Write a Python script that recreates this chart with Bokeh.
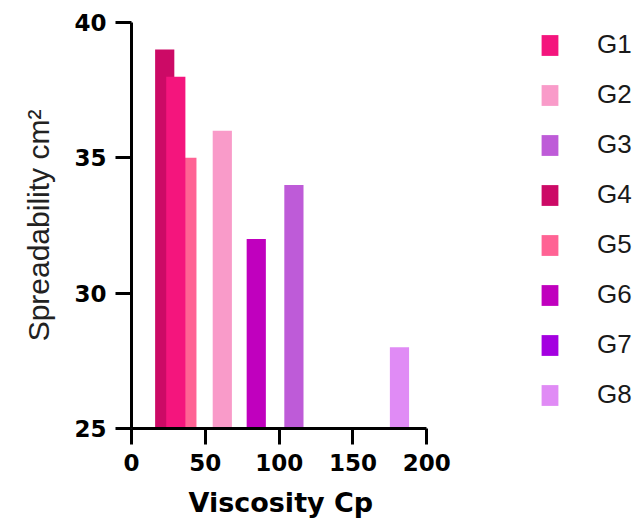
from bokeh.plotting import figure
from bokeh.models import Range1d, FixedTicker, Legend, LegendItem, ColumnDataSource, Title
from bokeh.embed import file_html
from bokeh.resources import INLINE

groups = ["G1", "G2", "G3", "G4", "G5", "G6", "G7", "G8"]
viscosity = [30, 61.5, 110, 22.5, 37.5, 84.5, 84.5, 181.5]
spreadability = [38, 36, 34, 39, 35, 32, 25, 28]
colors = ["#F4157D", "#F99BC9", "#BE5BD8", "#CC0A66", "#FF6394", "#C000BE", "#A400E0", "#E08BF5"]
x_ticks = [0, 50, 100, 150, 200]
y_ticks = [25, 30, 35, 40]
draw_order = ["G4", "G5", "G1", "G7", "G2", "G6", "G3", "G8"]

TICKFONT = "DejaVu Sans"
FONT = "Liberation Sans"

p = figure(width=636, height=529, output_backend="svg", toolbar_location=None,
           x_range=Range1d(0, 340), y_range=Range1d(25, 40),
           min_border_left=131, min_border_top=22, min_border_bottom=101, min_border_right=3)
p.outline_line_color = None
p.grid.visible = False
p.background_fill_color = "white"

renderers = {}
for g in draw_order:
    i = groups.index(g)
    src = ColumnDataSource(dict(x=[viscosity[i]], top=[spreadability[i]]))
    r = p.vbar(x="x", top="top", bottom=25, width=13, source=src,
               fill_color=colors[i], line_color=None)
    renderers[g] = r

for ax in (p.xaxis[0], p.yaxis[0]):
    ax.axis_line_width = 3
    ax.major_tick_line_width = 3
    ax.major_tick_out = 16
    ax.major_tick_in = 0
    ax.minor_tick_line_color = None
    ax.major_label_text_font = TICKFONT
    ax.major_label_text_font_style = "bold"
    ax.major_label_text_font_size = "23px"
    ax.major_label_text_color = "black"

p.xaxis.bounds = (0, 200)
p.xaxis.ticker = FixedTicker(ticks=x_ticks)
p.yaxis.ticker = FixedTicker(ticks=y_ticks)
p.xaxis.major_label_standoff = 9
p.yaxis.axis_label = "Spreadability cm\u00b2"
p.yaxis.axis_label_text_font = FONT
p.yaxis.axis_label_text_font_style = "normal"
p.yaxis.axis_label_text_font_size = "30px"
p.yaxis.axis_label_text_color = "#222222"
p.yaxis.major_label_standoff = 9
p.yaxis.axis_label_standoff = 16

xlabel = Title(text="Viscosity Cp", align="left", offset=57, standoff=22,
               text_font=TICKFONT, text_font_style="bold", text_font_size="27px",
               text_color="black")
p.add_layout(xlabel, "below")

items = [LegendItem(label=g, renderers=[renderers[g]]) for g in groups]
legend = Legend(items=items, location=(408, 18), orientation="vertical",
                glyph_width=21, glyph_height=26, spacing=19, label_standoff=37,
                label_text_font=FONT, label_text_font_size="26px",
                label_text_color="#1a1a1a",
                padding=0, margin=0, border_line_color=None, background_fill_alpha=0)
p.add_layout(legend, "center")

open("out.html", "w").write(file_html(p, INLINE))
